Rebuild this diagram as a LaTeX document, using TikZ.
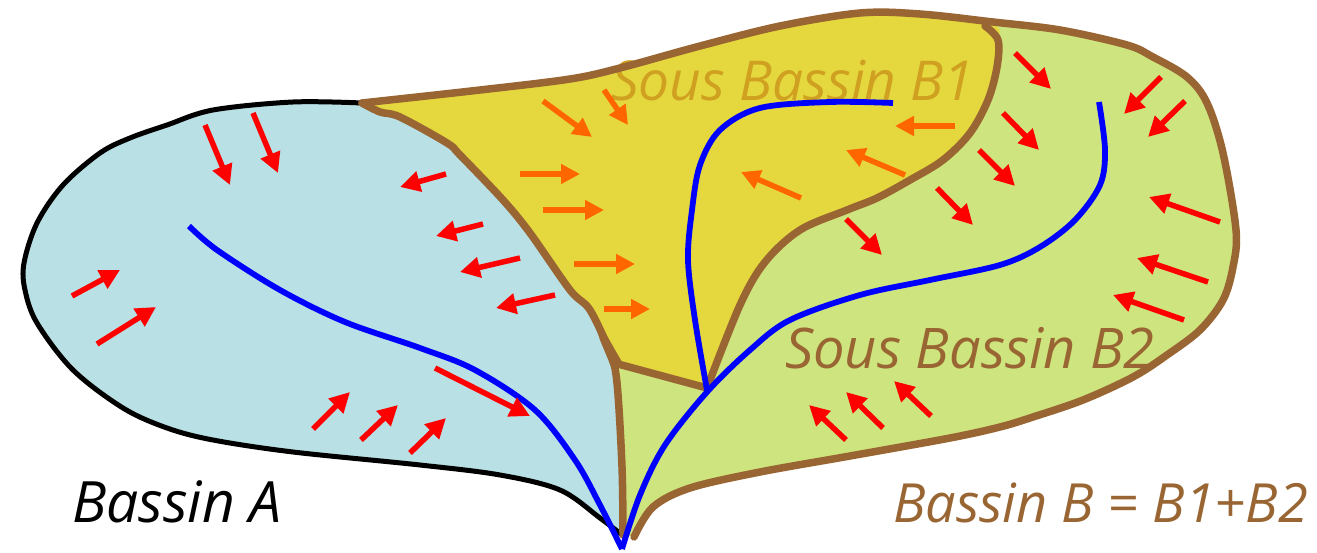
\documentclass[tikz,border=0pt]{standalone}
\usepackage{fontspec}
\setmainfont{Open Sans}
\usetikzlibrary{arrows.meta}
\definecolor{brun}{HTML}{996633}
\definecolor{bleuclair}{HTML}{B9E0E4}
\definecolor{vertclair}{HTML}{CEE47E}
\definecolor{jaune}{HTML}{E5D83E}
\definecolor{ocre}{HTML}{D0A020}
\definecolor{orangef}{HTML}{FF6600}
\tikzset{
  sm/.style={smooth,tension=0.55},
  redarrow/.style={draw=red,line width=5.5pt,-{Triangle[length=20pt,width=20pt]}},
  orarrow/.style={draw=orangef,line width=5.5pt,-{Triangle[length=19pt,width=19pt]}},
  brunline/.style={draw=brun,line width=7.5pt,line join=round,line cap=round},
  river/.style={draw=blue,line width=5.8pt},
  lab/.style={anchor=base west,inner sep=0pt},
  labsize/.style={font=\fontsize{#1}{#1}\selectfont\itshape}
}
\newcommand{\rarr}[2]{\draw[redarrow] #1 -- #2;}
\newcommand{\oarr}[2]{\draw[orarrow] #1 -- #2;}
\newcommand{\outerB}{(634,537)(653,507)(690,488)(760,472)(850,456)(950,438)(1000,427)(1033,417)(1083,400)(1133,377)(1167,355)(1200,330)(1223,300)(1233,267)(1236,230)(1223,153)(1207,103)(1187,77)(1153,57)(1127,45)(1060,30)(993,22)(920,14)(860,13)(780,26)(700,46)(620,68)(570,79)(480,90)(362,103)}
\newcommand{\outerA}{(362,103)(293,102)(213,110)(167,125)(130,138)(100,153)(63,185)(37,223)(24,263)(25,290)(37,323)(73,370)(123,408)(167,428)(213,440)(293,452)(420,465)(500,475)(560,490)(600,518)(622,535)}
\newcommand{\partage}{(362,103)(380,112)(400,117)(447,143)(460,155)(503,200)(530,233)(570,290)(590,310)(610,353)(617,383)(622,467)(623,535)}
\begin{document}
\begin{tikzpicture}[x=1pt,y=-1pt]
\useasboundingbox (0,0) rectangle (1317,553);
% Bassin A
\fill[bleuclair]
  plot[sm] coordinates {\outerA}
  -- (623,535) -- (622,467) -- (617,383) -- (610,353) -- (590,310) -- (530,233) -- (460,155) -- (400,117) -- cycle;
\draw[black,line width=5pt]
  plot[sm] coordinates {\outerA};
% Bassin B whole
\fill[vertclair]
  plot[sm] coordinates {\outerB}
  -- plot[sm] coordinates {\partage} -- cycle;
% B1
\fill[jaune]
  plot[sm] coordinates {(362,103)(480,90)(570,79)(620,68)(700,46)(780,26)(860,13)(920,14)(993,25)(998,40)(997,67)(988,100)(970,133)(943,160)(910,180)(877,198)(847,210)(800,230)(765,262)(740,305)(707,388)}
  -- (618,362) -- (610,353) -- plot[sm] coordinates {(590,310)(570,290)(530,233)(503,200)(460,155)(447,143)(400,117)(380,112)(362,103)} -- cycle;
\node[lab,labsize=55pt,text=ocre] (b1) at (611,101) {Sous Bassin B1};
% brown outlines
\draw[brunline]
  plot[sm] coordinates {\outerB};
\draw[brunline]
  plot[sm] coordinates {\partage};
\draw[brunline]
  plot[sm] coordinates {(985,26)(998,40)(997,67)(988,100)(970,133)(943,160)(910,180)(877,198)(847,210)(800,230)(765,262)(740,305)(707,388)};
\draw[brunline] (618,364) -- (707,388);
\fill[brun] (590,306) -- (622,362) -- (615,376) -- (600,340) -- cycle;
% rivers
\draw[river] plot[sm] coordinates {(189,226)(217,250)(280,290)(345,322)(420,348)(475,370)(535,410)(575,460)(600,505)(622,549)};
\draw[river] plot[sm] coordinates {(893,103)(830,102)(760,108)(720,130)(700,165)(692,210)(688,260)(695,320)(707,390)};
\draw[river] plot[sm] coordinates {(1099,102)(1105,150)(1100,185)(1075,220)(1040,247)(1000,265)(930,280)(860,295)(790,320)(750,350)(707,392)(665,445)(640,495)(622,549)};
% red arrows
\rarr{(205,125)}{(230,185)}
\rarr{(253,113)}{(278,173)}
\rarr{(446,174)}{(400,187)}
\rarr{(483,224)}{(436,236)}
\rarr{(520,258)}{(460,272)}
\rarr{(555,295)}{(496,308)}
\rarr{(72,296)}{(120,270)}
\rarr{(97,344)}{(156,307)}
\rarr{(313,429)}{(350,392)}
\rarr{(361,440)}{(398,405)}
\rarr{(410,453)}{(446,418)}
\rarr{(435,368)}{(530,416)}
\rarr{(1015,53)}{(1051,89)}
\rarr{(1161,77)}{(1124,114)}
\rarr{(1185,101)}{(1148,137)}
\rarr{(1003,113)}{(1039,150)}
\rarr{(979,150)}{(1015,186)}
\rarr{(937,188)}{(973,225)}
\rarr{(846,219)}{(882,255)}
\rarr{(1220,222)}{(1149,197)}
\rarr{(1208,282)}{(1137,258)}
\rarr{(1184,320)}{(1113,295)}
\rarr{(846,440)}{(809,405)}
\rarr{(883,428)}{(846,392)}
\rarr{(931,416)}{(894,381)}
% orange arrows
\oarr{(543,101)}{(592,137)}
\oarr{(604,90)}{(628,125)}
\oarr{(520,174)}{(580,174)}
\oarr{(543,210)}{(604,210)}
\oarr{(574,264)}{(635,264)}
\oarr{(604,309)}{(650,309)}
\oarr{(955,126)}{(895,126)}
\oarr{(905,175)}{(846,150)}
\oarr{(801,198)}{(741,172)}
% labels
\node[lab,labsize=56pt,text=brun] (b2) at (785,368) {Sous Bassin B2};
\node[lab,labsize=57pt,text=black] (a) at (72,522) {Bassin A};
\node[lab,labsize=54pt,text=brun] (b) at (893,522) {Bassin B = B1+B2};
\end{tikzpicture}
\end{document}
